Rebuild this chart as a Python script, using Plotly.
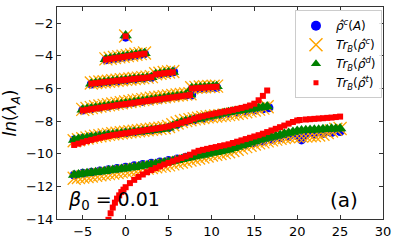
import plotly.graph_objects as go

# ---------------- data ----------------
# band 1 (single point)
X1 = [0]
B1 = [-2.85]
O1 = [-2.78]
G1 = [-2.75]
R1 = [-2.80]

# band 2
X2 = [-2.3, -1.8, -1.3, -0.8, -0.3, 0.2, 0.7, 1.2, 1.7, 2.2]
B2 = [-4.24, -4.20, -4.16, -4.12, -4.08, -4.04, -4.00, -3.96, -3.92, -3.86]
O2 = [-4.18, -4.14, -4.10, -4.06, -4.02, -3.98, -3.94, -3.90, -3.86, -3.82]
G2 = [-4.20, -4.16, -4.12, -4.08, -4.04, -4.00, -3.96, -3.92, -3.88, -3.84]
R2 = [-4.22, -4.18, -4.14, -4.10, -4.06, -4.02, -3.98, -3.94, -3.90, -3.86]

# band 3
X3 = [-4, -3.5, -3, -2.5, -2, -1.5, -1, -0.5, 0, 0.5, 1, 1.5, 2, 2.5, 3, 3.5, 4, 4.5, 5, 5.5]
G3 = [-5.70, -5.67, -5.64, -5.62, -5.59, -5.56, -5.53, -5.50, -5.48, -5.45, -5.42, -5.40, -5.37, -5.34, -5.31, -5.12, -5.09, -5.05, -5.02, -4.98]
R3 = [-5.70, -5.67, -5.64, -5.61, -5.58, -5.55, -5.52, -5.50, -5.47, -5.44, -5.41, -5.38, -5.36, -5.33, -5.30, -5.13, -5.10, -5.06, -5.03, -5.00]
O3 = [-5.66, -5.63, -5.60, -5.58, -5.55, -5.52, -5.49, -5.46, -5.44, -5.41, -5.38, -5.36, -5.33, -5.30, -5.27, -5.09, -5.06, -5.02, -4.99, -4.95]
XB3 = [-4, -3, -2, -1, 0, 1, 2, 3, 4, 5, 5.6]
B3 = [-5.72, -5.66, -5.60, -5.55, -5.49, -5.43, -5.38, -5.32, -5.12, -5.05, -4.97]

# band 4
X4 = [-5, -4.5, -4, -3.5, -3, -2.5, -2, -1.5, -1, -0.5, 0, 0.5, 1, 1.5, 2, 2.5, 3, 3.5, 4, 4.5, 5, 5.5, 6, 6.5, 7, 7.5]
G4 = [-7.30, -7.26, -7.22, -7.18, -7.14, -7.10, -7.07, -7.03, -6.99, -6.95, -6.92, -6.88, -6.84, -6.80, -6.77, -6.73, -6.69, -6.65, -6.62, -6.58, -6.54, -6.51, -6.47, -6.44, -6.40, -6.37]
R4 = [-7.34, -7.30, -7.26, -7.22, -7.18, -7.14, -7.10, -7.06, -7.02, -6.98, -6.95, -6.91, -6.87, -6.83, -6.79, -6.76, -6.72, -6.68, -6.65, -6.61, -6.57, -6.54, -6.50, -6.47, -6.43, -6.40]
O4 = [-7.28, -7.22, -7.17, -7.12, -7.07, -7.03, -6.99, -6.95, -6.91, -6.87, -6.83, -6.79, -6.75, -6.71, -6.68, -6.64, -6.60, -6.57, -6.53, -6.50, -6.46, -6.43, -6.40, -6.37, -6.34, -6.32]
XB4 = [-5, -4, -3, -2, -1, 0, 1, 2, 3, 4, 5, 6, 7, 7.7]
B4 = [-7.32, -7.24, -7.16, -7.09, -7.01, -6.94, -6.86, -6.79, -6.71, -6.64, -6.56, -6.49, -6.42, -6.40]

# band 4b (short segment)
X4B = [7.7, 8.2, 8.7, 9.2, 9.7, 10.2, 10.6]
G4B = [-5.98, -5.96, -5.94, -5.92, -5.90, -5.88, -5.86]
R4B = [-6.00, -5.98, -5.96, -5.94, -5.92, -5.90, -5.89]
B4B = [-6.08, -6.02, -6.00, -5.97, -5.95, -5.93, -5.92]
O4B = [-5.95, -5.93, -5.91, -5.89, -5.87, -5.86, -5.85]

# band 5
X5 = [-6, -5.5, -5, -4.5, -4, -3.5, -3, -2.5, -2, -1.5, -1, -0.5, 0, 0.5, 1, 1.5, 2, 2.5, 3, 3.5, 4, 4.5,
      5, 5.5, 6, 6.5, 7, 7.5, 8, 8.5, 9, 9.5, 10, 10.5, 11, 11.5, 12, 12.5, 13, 13.5, 14, 14.5, 15, 15.5, 16, 16.5]
G5 = [-9.15, -9.10, -9.06, -9.02, -8.99, -8.95, -8.92, -8.88, -8.85, -8.82, -8.79, -8.76, -8.73, -8.70, -8.67, -8.65, -8.62, -8.59, -8.56, -8.53, -8.50, -8.47,
      -8.40, -8.28, -8.17, -8.07, -8.00, -7.95, -7.90, -7.85, -7.79, -7.73, -7.68, -7.62, -7.56, -7.50, -7.45, -7.41, -7.37, -7.33, -7.30, -7.26, -7.22, -7.18, -7.14, -7.10]
R5 = [-9.46, -9.38, -9.30, -9.22, -9.15, -9.08, -9.02, -8.96, -8.91, -8.86, -8.82, -8.78, -8.74, -8.70, -8.66, -8.62, -8.58, -8.54, -8.50, -8.46, -8.42, -8.38,
      -8.33, -8.26, -8.18, -8.10, -8.02, -7.95, -7.85, -7.76, -7.70, -7.64, -7.58, -7.52, -7.47, -7.42, -7.37, -7.31, -7.25, -7.19, -7.12, -7.04, -6.93, -6.72, -6.45, -6.12]
O5 = [-9.20, -9.14, -9.08, -9.03, -8.98, -8.93, -8.89, -8.85, -8.81, -8.77, -8.74, -8.71, -8.68, -8.65, -8.62, -8.59, -8.56, -8.53, -8.50, -8.47, -8.44, -8.40,
      -8.33, -8.22, -8.11, -8.02, -7.96, -7.91, -7.86, -7.82, -7.78, -7.74, -7.71, -7.68, -7.66, -7.63, -7.60, -7.56, -7.52, -7.47, -7.42, -7.37, -7.32, -7.26, -7.20, -7.12]
XB5 = [-6, -5, -4, -3, -2, -1, 0, 1, 2, 3, 4, 5, 6, 7, 8, 9, 10, 11, 12, 13, 14, 15, 16, 16.7]
B5 = [-9.15, -9.06, -8.98, -8.90, -8.83, -8.77, -8.71, -8.65, -8.60, -8.54, -8.48, -8.40, -8.20, -8.02, -7.92, -7.82, -7.72, -7.62, -7.52, -7.45, -7.38, -7.31, -7.24, -7.18]

# band 6
X6 = [-6, -5.5, -5, -4.5, -4, -3.5, -3, -2.5, -2, -1.5, -1, -0.5, 0, 0.5, 1, 1.5, 2, 2.5, 3, 3.5, 4, 4.5, 5, 5.5, 6, 6.5, 7, 7.5,
      8, 8.5, 9, 9.5, 10, 10.5, 11, 11.5, 12, 12.5, 13, 13.5, 14, 14.5, 15, 15.5, 16, 16.5, 17, 17.5, 18, 18.5, 19, 19.5, 20, 20.5,
      21, 21.5, 22, 22.5, 23, 23.5, 24, 24.5, 25]
G6 = [-11.30, -11.27, -11.23, -11.20, -11.17, -11.13, -11.10, -11.07, -11.03, -11.00, -10.97, -10.93, -10.90, -10.86, -10.82, -10.78,
      -10.74, -10.70, -10.66, -10.62, -10.58, -10.54, -10.50, -10.45, -10.39, -10.34, -10.28, -10.23, -10.17, -10.12, -10.07, -10.01,
      -9.96, -9.91, -9.86, -9.80, -9.75, -9.66, -9.58, -9.49, -9.41, -9.32, -9.24, -9.15, -9.09, -9.03, -8.97, -8.91, -8.85, -8.78,
      -8.72, -8.66, -8.60, -8.58, -8.56, -8.55, -8.53, -8.52, -8.50, -8.49, -8.47, -8.46, -8.45]
O6 = [-11.50, -11.45, -11.42, -11.39, -11.36, -11.32, -11.29, -11.25, -11.22, -11.18, -11.15, -11.11, -11.08, -11.04, -11.00, -10.96,
      -10.92, -10.88, -10.84, -10.80, -10.76, -10.72, -10.68, -10.62, -10.56, -10.50, -10.44, -10.38, -10.32, -10.26, -10.20, -10.14,
      -10.08, -10.03, -9.98, -9.93, -9.88, -9.80, -9.72, -9.64, -9.56, -9.48, -9.40, -9.33, -9.27, -9.21, -9.15, -9.10, -9.05, -9.00,
      -8.96, -8.93, -8.92, -8.92, -8.92, -8.90, -8.88, -8.85, -8.80, -8.70, -8.60, -8.50, -8.45]
XB6 = [-6, -5, -4, -3, -2, -1, 0, 1, 2, 3, 4, 5, 6, 7, 8, 9, 10, 11, 12, 13, 14, 15, 16, 17, 18, 19, 20, 20.5, 21, 22, 23, 24, 25]
B6 = [-11.30, -11.20, -11.13, -11.05, -10.98, -10.90, -10.82, -10.74, -10.66, -10.58, -10.50, -10.42, -10.32, -10.22, -10.10, -9.98,
      -9.86, -9.74, -9.62, -9.52, -9.42, -9.32, -9.22, -9.12, -9.02, -8.94, -8.90, -9.15, -8.85, -8.80, -8.75, -8.70, -8.64]
XR6 = [-2, -1.75, -1.5, -1.25, -1, -0.75, -0.5, -0.25, 0, 0.5, 1, 1.5, 2, 2.5, 3, 3.5, 4, 4.5, 5, 5.5, 6, 6.5, 7, 7.5, 8, 8.5,
       9, 9.5, 10, 10.5, 11, 11.5, 12, 12.5, 13, 13.5, 14, 14.5, 15, 15.5, 16, 16.5, 17, 17.5, 18, 18.5, 19, 19.5, 20, 20.3,
       21, 21.5, 22, 22.5, 23, 23.5, 24, 24.5, 25]
R6 = [-14.05, -13.65, -13.30, -13.00, -12.75, -12.55, -12.35, -12.20, -12.05, -11.80, -11.60, -11.42, -11.27, -11.13, -11.00, -10.88,
      -10.77, -10.66, -10.56, -10.46, -10.36, -10.26, -10.16, -10.06, -9.92, -9.82, -9.76, -9.70, -9.64, -9.59, -9.53, -9.48,
      -9.42, -9.34, -9.26, -9.18, -9.10, -9.02, -8.94, -8.86, -8.77, -8.67, -8.57, -8.47, -8.37, -8.27, -8.15, -8.05, -7.96, -7.93,
      -7.90, -7.88, -7.86, -7.84, -7.82, -7.80, -7.78, -7.75, -7.72]

LABELS = ["<i>ρ̂</i><sup><i>c</i></sup>(<i>A</i>)",
          "<i>Tr</i><sub><i>B</i></sub>(<i>ρ̂</i><sup><i>c</i></sup>)",
          "<i>Tr</i><sub><i>B</i></sub>(<i>ρ̂</i><sup><i>d</i></sup>)",
          "<i>Tr</i><sub><i>B</i></sub>(<i>ρ̂</i><sup><i>t</i></sup>)"]

# ---------------- assemble series ----------------
blue_x = X1 + X2 + XB3 + XB4 + X4B + XB5 + XB6
blue_y = B1 + B2 + B3 + B4 + B4B + B5 + B6
orange_x = X1 + X2 + X3 + X4 + X4B + X5 + X6
orange_y = O1 + O2 + O3 + O4 + O4B + O5 + O6
green_x = X1 + X2 + X3 + X4 + X4B + X5 + X6
green_y = G1 + G2 + G3 + G4 + G4B + G5 + G6
red_x = X1 + X2 + X3 + X4 + X4B + X5 + XR6
red_y = R1 + R2 + R3 + R4 + R4B + R5 + R6

BLUE, ORANGE, GREEN, RED = "#0000ff", "#ffa500", "#008000", "#ff0000"

fig = go.Figure()
fig.add_trace(go.Scatter(x=blue_x, y=blue_y, mode="markers", showlegend=False,
                         marker=dict(symbol="circle", size=9, color=BLUE, line=dict(width=0))))
fig.add_trace(go.Scatter(x=orange_x, y=orange_y, mode="markers", showlegend=False,
                         marker=dict(symbol="x-thin", size=13, color=ORANGE, line=dict(width=1.3, color=ORANGE))))
fig.add_trace(go.Scatter(x=green_x, y=green_y, mode="markers", showlegend=False,
                         marker=dict(symbol="triangle-up", size=11, color=GREEN, line=dict(width=0))))
fig.add_trace(go.Scatter(x=red_x, y=red_y, mode="markers", showlegend=False,
                         marker=dict(symbol="square", size=6, color=RED, line=dict(width=0))))

# legend entries
fig.add_trace(go.Scatter(x=[None], y=[None], mode="markers", name=LABELS[0],
                         marker=dict(symbol="circle", size=10, color=BLUE)))
fig.add_trace(go.Scatter(x=[None], y=[None], mode="markers", name=LABELS[1],
                         marker=dict(symbol="x-thin", size=13, color=ORANGE, line=dict(width=1.5, color=ORANGE))))
fig.add_trace(go.Scatter(x=[None], y=[None], mode="markers", name=LABELS[2],
                         marker=dict(symbol="triangle-up", size=9, color=GREEN)))
fig.add_trace(go.Scatter(x=[None], y=[None], mode="markers", name=LABELS[3],
                         marker=dict(symbol="square", size=5, color=RED)))

axis_common = dict(showline=True, linecolor="#333333", linewidth=1, mirror="ticks", automargin=False,
                   ticks="inside", ticklen=4, tickcolor="#333333", showgrid=False, zeroline=False)
fig.update_xaxes(range=[-8, 30], tick0=0, dtick=5, **axis_common)
fig.update_yaxes(range=[-14, -1], tick0=0, dtick=2,
                 title=dict(text="<i>ln</i>(<i>λ</i><sub><i>A</i></sub>)", font=dict(size=17), standoff=6),
                 **axis_common)

fig.add_annotation(x=-7.0, y=-12.85, xref="x", yref="y", xanchor="left", yanchor="middle",
                   text="<i>β</i><sub>0</sub> = 0.01", showarrow=False, font=dict(size=19, color="black"))
fig.add_annotation(x=25.5, y=-12.85, xref="x", yref="y", xanchor="center", yanchor="middle",
                   text="(a)", showarrow=False, font=dict(size=20, color="black"))

fig.update_layout(
    width=399, height=242,
    margin=dict(l=57, r=16, t=7, b=23, autoexpand=False),
    plot_bgcolor="white", paper_bgcolor="white",
    font=dict(family="DejaVu Sans", size=13, color="black"),
    legend=dict(x=0.73, y=0.985, xanchor="left", yanchor="top",
                bgcolor="rgba(255,255,255,0.85)", bordercolor="#cccccc", borderwidth=1,
                font=dict(size=12), itemwidth=30, tracegroupgap=0),
)

fig.write_html("out.html", config={"displayModeBar": False},
               post_script="document.body.style.margin='0';document.body.style.overflow='hidden';")
